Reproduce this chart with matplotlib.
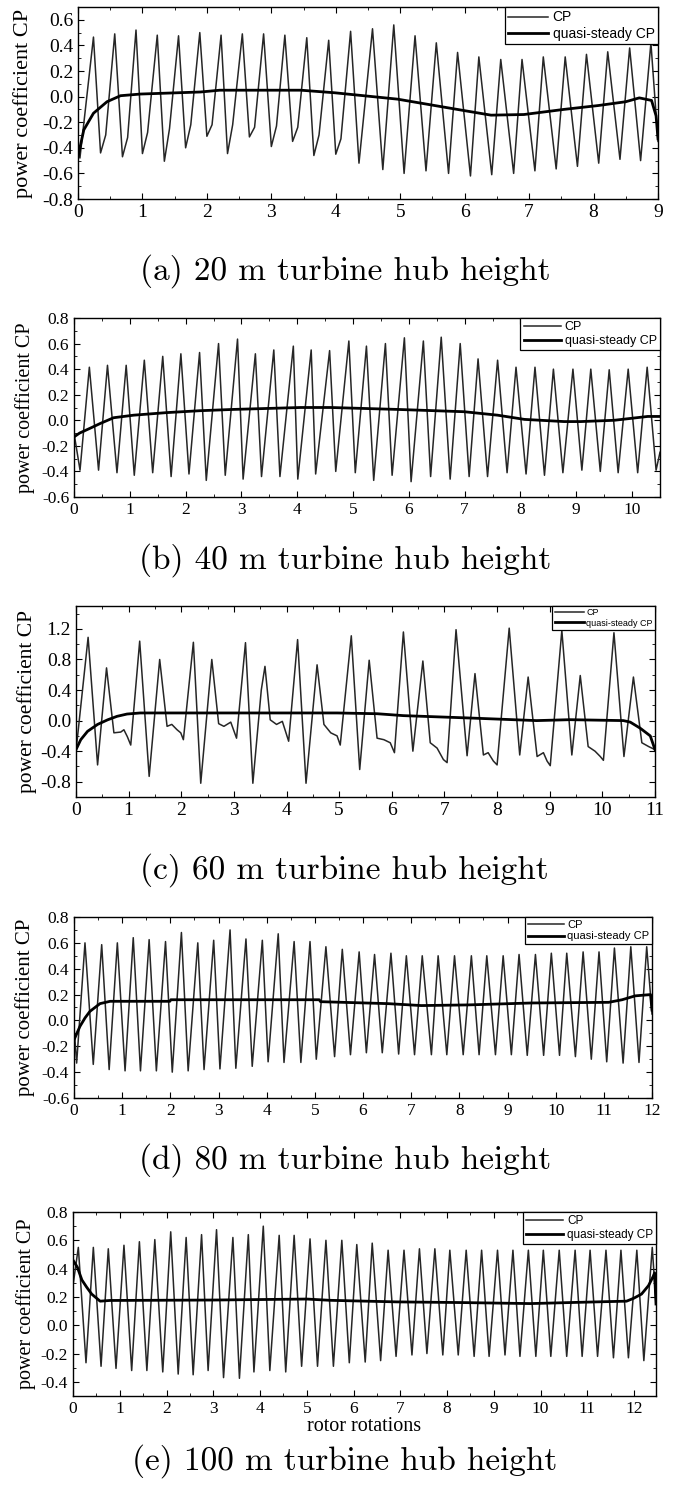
import matplotlib.pyplot as plt
from matplotlib.ticker import MultipleLocator, FormatStrFormatter

plt.rcParams['font.family'] = 'Liberation Serif'
plt.rcParams['axes.unicode_minus'] = False

# ---------------- (a) 20 m hub height ----------------
a_peak_x = [0.24, 0.57, 0.90, 1.23, 1.56, 1.89, 2.22, 2.55, 2.88, 3.21, 3.55, 3.89, 4.23, 4.57,
            4.90, 5.23, 5.56, 5.89, 6.22, 6.56, 6.89, 7.22, 7.56, 7.89, 8.22, 8.56, 8.89]
a_peak_y = [0.465, 0.49, 0.52, 0.48, 0.475, 0.50, 0.48, 0.49, 0.49, 0.48, 0.46, 0.44, 0.51, 0.53,
            0.56, 0.475, 0.42, 0.345, 0.31, 0.29, 0.29, 0.31, 0.31, 0.33, 0.35, 0.38, 0.42]
a_trough_x = [0.0, 0.03, 0.35, 0.69, 1.00, 1.34, 1.67, 2.00, 2.32, 2.66, 3.00, 3.33, 3.66, 4.00,
              4.36, 4.73, 5.06, 5.40, 5.75, 6.09, 6.42, 6.76, 7.09, 7.42, 7.75, 8.08, 8.41, 8.73, 9.0]
a_trough_y = [-0.40, -0.48, -0.44, -0.47, -0.445, -0.505, -0.40, -0.31, -0.445, -0.315, -0.39, -0.35,
              -0.46, -0.45, -0.52, -0.57, -0.60, -0.58, -0.60, -0.62, -0.61, -0.60, -0.58, -0.565,
              -0.545, -0.52, -0.49, -0.50, -0.35]
a_extra_x = [0.43, 0.77, 1.08, 1.42, 1.75, 2.08, 2.40, 2.74, 3.08, 3.41, 3.74, 4.08]
a_extra_y = [-0.30, -0.32, -0.28, -0.25, -0.22, -0.22, -0.22, -0.24, -0.23, -0.24, -0.30, -0.33]
a_qs_x = [0.0, 0.09, 0.24, 0.45, 0.66, 0.97, 1.9, 2.2, 3.46, 3.98, 4.96, 6.0, 6.41, 6.92, 7.54,
          8.07, 8.5, 8.71, 8.9, 8.97, 9.0]
a_qs_y = [-0.47, -0.26, -0.13, -0.04, 0.007, 0.02, 0.036, 0.05, 0.05, 0.03, -0.02, -0.11, -0.145,
          -0.14, -0.10, -0.07, -0.04, -0.01, -0.03, -0.15, -0.33]

# ---------------- (b) 40 m hub height ----------------
b_peak_x = [0.275, 0.60, 0.935, 1.26, 1.59, 1.915, 2.25, 2.59, 2.93, 3.25, 3.58, 3.93, 4.25, 4.58,
            4.925, 5.24, 5.58, 5.92, 6.26, 6.58, 6.92, 7.24, 7.59, 7.92, 8.26, 8.59, 8.94, 9.26,
            9.59, 9.93, 10.27]
b_peak_y = [0.415, 0.43, 0.43, 0.47, 0.50, 0.52, 0.53, 0.60, 0.635, 0.52, 0.55, 0.58, 0.55, 0.545,
            0.62, 0.58, 0.60, 0.645, 0.62, 0.65, 0.60, 0.48, 0.47, 0.415, 0.415, 0.40, 0.40, 0.40,
            0.395, 0.40, 0.415]
b_trough_x = [0.0, 0.108, 0.44, 0.77, 1.08, 1.41, 1.74, 2.06, 2.37, 2.71, 3.03, 3.36, 3.69, 4.01,
              4.33, 4.69, 5.04, 5.37, 5.70, 6.04, 6.39, 6.74, 7.08, 7.41, 7.76, 8.10, 8.43, 8.76,
              9.10, 9.43, 9.75, 10.10, 10.43, 10.5]
b_trough_y = [-0.10, -0.39, -0.39, -0.41, -0.43, -0.41, -0.44, -0.42, -0.47, -0.43, -0.46, -0.44,
              -0.44, -0.46, -0.42, -0.40, -0.41, -0.47, -0.43, -0.48, -0.44, -0.46, -0.44, -0.44,
              -0.41, -0.42, -0.43, -0.41, -0.39, -0.40, -0.41, -0.41, -0.39, -0.25]
b_qs_x = [0.0, 0.1, 0.3, 0.47, 0.71, 1.07, 1.66, 2.26, 2.86, 4.06, 4.6, 5.79, 6.99, 7.59, 8.07,
          8.78, 9.08, 9.68, 10.28, 10.5]
b_qs_y = [-0.13, -0.10, -0.06, -0.025, 0.02, 0.04, 0.06, 0.075, 0.085, 0.10, 0.10, 0.085, 0.067,
          0.04, 0.007, -0.01, -0.01, 0.0, 0.03, 0.03]

# ---------------- (c) 60 m hub height ----------------
c_peak_x = [0.23, 0.58, 1.21, 1.59, 2.23, 2.58, 3.22, 3.59, 4.21, 4.58, 5.23, 5.57, 6.22, 6.59,
            7.22, 7.58, 8.23, 8.59, 9.23, 9.58, 10.22, 10.59]
c_peak_y = [1.09, 0.69, 1.04, 0.80, 1.025, 0.80, 1.02, 0.71, 1.06, 0.73, 1.11, 0.79, 1.16, 0.78,
            1.19, 0.615, 1.21, 0.57, 1.18, 0.59, 1.15, 0.57]
c_trough_x = [0.0, 0.41, 1.04, 1.39, 2.04, 2.37, 3.05, 3.36, 4.04, 4.37, 5.02, 5.39, 6.05, 6.40,
              7.05, 7.43, 8.0, 8.43, 9.01, 9.42, 10.02, 10.41, 11.0]
c_trough_y = [-0.40, -0.58, -0.32, -0.73, -0.25, -0.82, -0.23, -0.82, -0.27, -0.82, -0.32, -0.64,
              -0.42, -0.40, -0.55, -0.46, -0.58, -0.45, -0.59, -0.45, -0.52, -0.47, -0.38]
c_extra_x = [0.72, 0.85, 0.91, 0.975, 1.73, 1.82, 1.92, 1.99, 2.71, 2.81, 2.94, 3.52, 3.69, 3.81,
             3.92, 4.71, 4.84, 4.96, 5.72, 5.85, 5.97, 6.73, 6.86, 6.98, 7.74, 7.83, 7.93, 8.76,
             8.88, 8.95, 9.73, 9.86, 9.96, 10.75, 10.88]
c_extra_y = [-0.16, -0.15, -0.12, -0.21, -0.075, -0.05, -0.12, -0.16, -0.04, -0.075, -0.02, 0.40,
             0.01, -0.05, -0.01, -0.05, -0.16, -0.20, -0.23, -0.25, -0.29, -0.29, -0.36, -0.51,
             -0.45, -0.42, -0.53, -0.47, -0.42, -0.53, -0.34, -0.40, -0.47, -0.29, -0.34]
c_qs_x = [0.0, 0.09, 0.22, 0.41, 0.6, 0.78, 0.97, 1.22, 4.96, 5.72, 6.22, 7.48, 8.75, 9.38, 10.4,
          10.53, 10.72, 10.91, 11.0]
c_qs_y = [-0.38, -0.25, -0.14, -0.05, 0.01, 0.056, 0.086, 0.10, 0.10, 0.09, 0.065, 0.034, 0.0,
          0.012, 0.0, -0.02, -0.10, -0.20, -0.38]

# ---------------- (d) 80 m hub height ----------------
d_peak_x = [0.228, 0.575, 0.90, 1.23, 1.56, 1.90, 2.23, 2.57, 2.90, 3.24, 3.57, 3.91, 4.24, 4.57,
            4.90, 5.23, 5.57, 5.92, 6.24, 6.58, 6.90, 7.23, 7.56, 7.90, 8.25, 8.57, 8.91, 9.24,
            9.58, 9.91, 10.23, 10.57, 10.90, 11.22, 11.56, 11.89]
d_peak_y = [0.60, 0.586, 0.60, 0.64, 0.625, 0.61, 0.68, 0.60, 0.62, 0.70, 0.63, 0.62, 0.67, 0.61,
            0.61, 0.57, 0.55, 0.53, 0.51, 0.52, 0.50, 0.50, 0.50, 0.50, 0.50, 0.50, 0.50, 0.51,
            0.51, 0.52, 0.52, 0.53, 0.53, 0.56, 0.57, 0.57]
d_trough_x = [0.0, 0.055, 0.40, 0.73, 1.06, 1.38, 1.71, 2.04, 2.37, 2.70, 3.03, 3.36, 3.70, 4.03,
              4.36, 4.71, 5.03, 5.41, 5.74, 6.07, 6.40, 6.74, 7.07, 7.42, 7.74, 8.08, 8.41, 8.75,
              9.08, 9.41, 9.75, 10.08, 10.41, 10.74, 11.06, 11.40, 11.73, 12.0]
d_trough_y = [-0.05, -0.33, -0.34, -0.38, -0.39, -0.39, -0.39, -0.40, -0.39, -0.38, -0.375, -0.37,
              -0.355, -0.32, -0.325, -0.325, -0.30, -0.28, -0.265, -0.25, -0.25, -0.26, -0.265,
              -0.265, -0.265, -0.265, -0.265, -0.265, -0.265, -0.27, -0.27, -0.27, -0.28, -0.30,
              -0.32, -0.33, -0.325, 0.05]
d_qs_x = [0.0, 0.125, 0.23, 0.33, 0.54, 0.75, 1.99, 2.01, 5.09, 5.12, 6.51, 7.21, 8.18, 9.5,
          11.1, 11.38, 11.65, 11.97, 12.0]
d_qs_y = [-0.15, -0.045, 0.02, 0.07, 0.13, 0.148, 0.148, 0.16, 0.16, 0.145, 0.13, 0.115, 0.12,
          0.135, 0.14, 0.16, 0.19, 0.20, 0.08]

# ---------------- (e) 100 m hub height ----------------
e_peak_x = [0.114, 0.435, 0.755, 1.09, 1.42, 1.75, 2.09, 2.42, 2.75, 3.07, 3.42, 3.75, 4.07, 4.41,
            4.73, 5.07, 5.41, 5.75, 6.07, 6.40, 6.74, 7.08, 7.41, 7.74, 8.06, 8.41, 8.74, 9.08,
            9.41, 9.74, 10.06, 10.40, 10.74, 11.06, 11.40, 11.72, 12.06, 12.39]
e_peak_y = [0.55, 0.55, 0.54, 0.565, 0.59, 0.605, 0.66, 0.62, 0.64, 0.675, 0.62, 0.64, 0.70, 0.635,
            0.635, 0.61, 0.60, 0.60, 0.57, 0.58, 0.53, 0.53, 0.54, 0.54, 0.53, 0.53, 0.53, 0.53,
            0.53, 0.53, 0.53, 0.53, 0.53, 0.53, 0.53, 0.53, 0.53, 0.55]
e_trough_x = [0.0, 0.278, 0.60, 0.92, 1.255, 1.58, 1.92, 2.25, 2.57, 2.89, 3.22, 3.56, 3.87, 4.21,
              4.55, 4.89, 5.23, 5.57, 5.91, 6.25, 6.58, 6.91, 7.25, 7.57, 7.91, 8.24, 8.58, 8.90,
              9.24, 9.56, 9.90, 10.22, 10.56, 10.89, 11.22, 11.56, 11.88, 12.21, 12.47]
e_trough_y = [0.28, -0.265, -0.29, -0.305, -0.32, -0.32, -0.33, -0.345, -0.35, -0.32, -0.37, -0.375,
              -0.33, -0.32, -0.33, -0.29, -0.29, -0.29, -0.265, -0.26, -0.25, -0.22, -0.21, -0.20,
              -0.21, -0.21, -0.22, -0.22, -0.21, -0.22, -0.22, -0.22, -0.22, -0.22, -0.22, -0.23,
              -0.23, -0.25, 0.15]
e_qs_x = [0.0, 0.093, 0.19, 0.29, 0.40, 0.58, 0.79, 3.0, 5.0, 5.5, 6.92, 8.35, 9.78, 11.2, 11.84,
          11.99, 12.16, 12.31, 12.41, 12.44, 12.47]
e_qs_y = [0.46, 0.41, 0.32, 0.27, 0.22, 0.17, 0.175, 0.178, 0.185, 0.176, 0.165, 0.16, 0.153,
          0.165, 0.17, 0.19, 0.22, 0.28, 0.345, 0.37, 0.15]

captions = ['(a) 20 m turbine hub height', '(b) 40 m turbine hub height',
            '(c) 60 m turbine hub height', '(d) 80 m turbine hub height',
            '(e) 100 m turbine hub height']

panels = [
    dict(peak=(a_peak_x, a_peak_y), trough=(a_trough_x, a_trough_y), extra=(a_extra_x, a_extra_y),
         qs=(a_qs_x, a_qs_y), box=(78, 7, 658, 199), xlim=(0, 9), ylim=(-0.8, 0.7),
         ymaj=0.2, yfirst=-0.8, ylast=0.6, tick_fs=14, lab_fs=16, leg_fs=10, hl=2.9,
         labx=-0.078, capy=271),
    dict(peak=(b_peak_x, b_peak_y), trough=(b_trough_x, b_trough_y), extra=([], []),
         qs=(b_qs_x, b_qs_y), box=(74, 318, 660, 497), xlim=(0, 10.5), ylim=(-0.6, 0.8),
         ymaj=0.2, yfirst=-0.6, ylast=0.8, tick_fs=12.5, lab_fs=14.5, leg_fs=9, hl=3.0,
         labx=-0.067, capy=560),
    dict(peak=(c_peak_x, c_peak_y), trough=(c_trough_x, c_trough_y), extra=(c_extra_x, c_extra_y),
         qs=(c_qs_x, c_qs_y), box=(76, 606, 655, 797), xlim=(0, 11), ylim=(-1.0, 1.5),
         ymaj=0.4, yfirst=-0.8, ylast=1.2, tick_fs=14, lab_fs=15.5, leg_fs=6.5, hl=3.2,
         labx=-0.067, capy=870),
    dict(peak=(d_peak_x, d_peak_y), trough=(d_trough_x, d_trough_y), extra=([], []),
         qs=(d_qs_x, d_qs_y), box=(74, 917, 652, 1098), xlim=(0, 12), ylim=(-0.6, 0.8),
         ymaj=0.2, yfirst=-0.6, ylast=0.8, tick_fs=12.5, lab_fs=15, leg_fs=8, hl=3.2,
         labx=-0.067, capy=1160),
    dict(peak=(e_peak_x, e_peak_y), trough=(e_trough_x, e_trough_y), extra=([], []),
         qs=(e_qs_x, e_qs_y), box=(73, 1212, 656, 1396), xlim=(0, 12.47), ylim=(-0.5, 0.8),
         ymaj=0.2, yfirst=-0.4, ylast=0.8, tick_fs=12.5, lab_fs=14.5, leg_fs=8.5, hl=3.2,
         labx=-0.063, capy=1461),
]

W, H = 676, 1497
fig = plt.figure(figsize=(W / 100, H / 100), dpi=100)

for p, cap in zip(panels, captions):
    x0, y0, x1, y1 = p['box']
    ax = fig.add_axes([x0 / W, 1 - y1 / H, (x1 - x0) / W, (y1 - y0) / H])

    # merge peaks, troughs and shoulder points into one trace ordered in time
    pts = list(zip(*p['peak'])) + list(zip(*p['trough'])) + list(zip(*p['extra']))
    pts.sort()
    ax.plot([q[0] for q in pts], [q[1] for q in pts], color='#262626', lw=1.1, label='CP')
    ax.plot(p['qs'][0], p['qs'][1], color='black', lw=2.0, label='quasi-steady CP')

    ax.set_xlim(*p['xlim'])
    ax.set_ylim(*p['ylim'])
    ax.xaxis.set_major_locator(MultipleLocator(1))
    ax.xaxis.set_minor_locator(MultipleLocator(0.5))
    ax.yaxis.set_major_locator(MultipleLocator(p['ymaj']))
    ax.yaxis.set_minor_locator(MultipleLocator(p['ymaj'] / 2))
    ax.yaxis.set_major_formatter(FormatStrFormatter('%.1f'))
    ticks = [t for t in ax.get_yticks() if p['yfirst'] - 1e-6 <= t <= p['ylast'] + 1e-6]
    ax.set_yticks(ticks)
    ax.tick_params(which='both', direction='in', top=True, right=True, labelsize=p['tick_fs'])
    ax.tick_params(which='major', length=4, width=0.8)
    ax.tick_params(which='minor', length=2.2, width=0.6)
    for s in ax.spines.values():
        s.set_linewidth(1.0)

    ax.set_ylabel('power coefficient CP', fontsize=p['lab_fs'])
    ax.yaxis.set_label_coords(p['labx'], 0.5)

    leg = ax.legend(loc='upper right', borderaxespad=0, fancybox=False, framealpha=1,
                    edgecolor='black', handlelength=p['hl'], handletextpad=0.3, borderpad=0.25,
                    labelspacing=0.15, prop={'family': 'Liberation Sans', 'size': p['leg_fs']})
    leg.get_frame().set_linewidth(0.9)

    fig.text(0.51, 1 - p['capy'] / H, cap, family='cmr10', fontsize=24, ha='center', va='center')

ax.set_xlabel('rotor rotations', fontsize=14.5, labelpad=0)

fig.savefig('out.png', dpi=100)
